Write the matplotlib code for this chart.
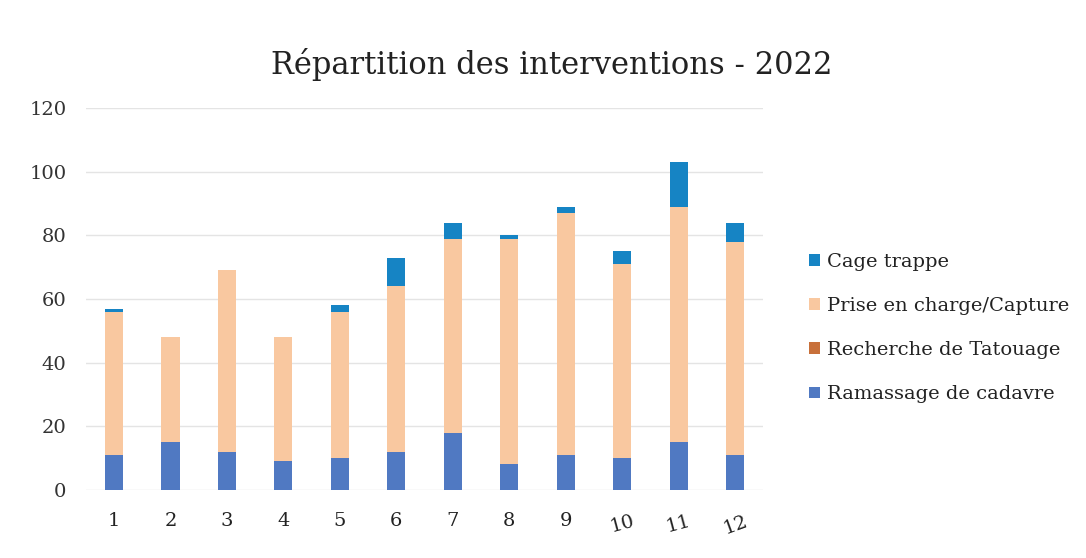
import matplotlib
matplotlib.use("Agg")
import matplotlib.pyplot as plt
from matplotlib.patches import Patch
import numpy as np

months = ["1", "2", "3", "4", "5", "6", "7", "8", "9", "10", "11", "12"]
ramassage = [11, 15, 12, 9, 10, 12, 18, 8, 11, 10, 15, 11]
recherche = [0, 0, 0, 0, 0, 0, 0, 0, 0, 0, 0, 0]
prise = [45, 33, 57, 39, 46, 52, 61, 71, 76, 61, 74, 67]
cage = [1, 0, 0, 0, 2, 9, 5, 1, 2, 4, 14, 6]

series_names = ["Ramassage de cadavre", "Recherche de Tatouage",
                "Prise en charge/Capture", "Cage trappe"]
colors = ["#5079c2", "#c8703a", "#f9c8a0", "#1684c4"]

plt.rcParams['font.family'] = ['DejaVu Serif']

fig = plt.figure(figsize=(10.86, 5.58), dpi=100)
ax = fig.add_axes([0.079, 0.122, 0.624, 0.684])

x = np.arange(len(months))
w = 0.32
bottom = np.zeros(len(months))
for vals, c in zip([ramassage, recherche, prise, cage], colors):
    v = np.array(vals, dtype=float)
    ax.bar(x, v, w, bottom=bottom, color=c, zorder=3)
    bottom += v

ax.set_xlim(-0.5, len(months) - 0.5)
ax.set_ylim(0, 120)
ax.set_yticks(range(0, 121, 20))
ax.yaxis.grid(True, color="#e4e4e4", linewidth=1.0, zorder=0)
ax.tick_params(axis="y", length=0, pad=14, labelsize=14, labelcolor="#333333")
ax.tick_params(axis="x", length=0, pad=16, labelsize=14, labelcolor="#222222")
ax.set_xticks(x)
rots = [0, 0, 0, 0, 0, 0, 0, 0, 0, 15, 15, 20]
ax.set_xticklabels(months)
for lbl, r in zip(ax.get_xticklabels(), rots):
    lbl.set_rotation(r)
for s in ax.spines.values():
    s.set_visible(False)

fig.text(0.508, 0.885, "Répartition des interventions - 2022", ha="center",
         va="center", fontsize=22, color="#222222")

handles = [Patch(facecolor=c) for c in colors][::-1]
labels = series_names[::-1]
leg = fig.legend(handles, labels, loc="center left",
                 bbox_to_anchor=(0.736, 0.412), frameon=False, fontsize=14,
                 handlelength=0.55, handleheight=0.55, handletextpad=0.4,
                 labelspacing=1.35, borderpad=0)
for t in leg.get_texts():
    t.set_color("#222222")

fig.savefig("out.png", dpi=100)
